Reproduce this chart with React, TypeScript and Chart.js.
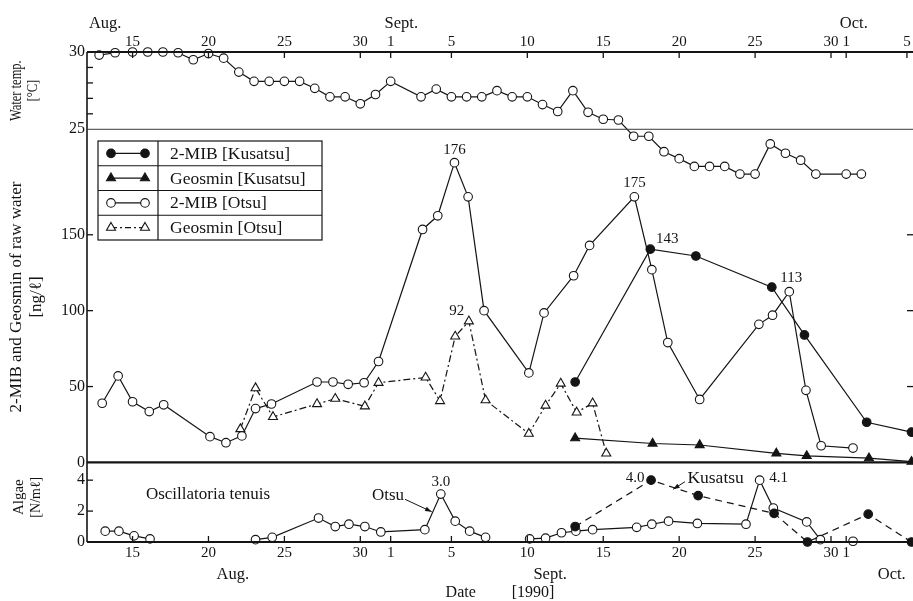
import React, { useEffect, useRef } from "react";
import { Chart, registerables } from "chart.js";

Chart.register(...registerables);

const INK = "#141414";
const SERIF = "'Liberation Serif', 'Times New Roman', 'DejaVu Serif', serif";

// ---------------- data (day number: Aug 1 = 1, Sept 1 = 32, Oct 1 = 62) ----------------
const tempDays = [12.8, 13.85, 15, 16, 17, 18, 19, 20, 21, 22, 23, 24, 25, 26, 27, 28, 29, 30, 31, 32, 34, 35, 36, 37, 38, 39, 40, 41, 42, 43, 44, 45, 46, 47, 48, 49, 50, 51, 52, 53, 54, 55, 56, 57, 58, 59, 60, 62, 63];
const tempValues = [29.8, 29.95, 30, 30, 30, 29.95, 29.5, 29.9, 29.6, 28.7, 28.1, 28.1, 28.1, 28.1, 27.65, 27.1, 27.1, 26.65, 27.25, 28.1, 27.1, 27.6, 27.1, 27.1, 27.1, 27.5, 27.1, 27.1, 26.6, 26.15, 27.5, 26.1, 25.65, 25.6, 24.55, 24.55, 23.55, 23.1, 22.6, 22.6, 22.6, 22.1, 22.1, 24.05, 23.45, 23.0, 22.1, 22.1, 22.1];

const mibOtsuDays = [13.0, 14.05, 15.0, 16.1, 17.05, 20.1, 21.15, 22.2, 23.1, 24.15, 27.15, 28.2, 29.2, 30.25, 31.2, 34.1, 35.1, 36.2, 37.1, 38.15, 41.1, 42.1, 44.05, 45.1, 48.05, 49.2, 50.25, 52.35, 56.25, 57.15, 58.25, 59.35, 60.35, 62.45];
const mibOtsuValues = [39, 57, 40, 33.5, 38, 17, 13, 17.5, 35.5, 38.5, 53, 53, 51.5, 52.5, 66.5, 153.5, 162.5, 197.5, 175, 100, 59, 98.5, 123, 143, 175, 127, 79, 41.5, 91, 97, 112.5, 47.5, 11, 9.5];

const geoOtsuDays = [22.1, 23.1, 24.25, 27.15, 28.35, 30.3, 31.2, 34.3, 35.25, 36.25, 37.15, 38.25, 41.1, 42.2, 43.2, 44.25, 45.3, 46.2];
const geoOtsuValues = [22, 49, 30, 38.5, 42, 37, 52.5, 56, 40.5, 83, 93, 41, 19, 37.5, 52, 33, 39, 6];

const mibKusatsuDays = [44.15, 49.1, 52.1, 57.1, 59.25, 63.35, 66.3];
const mibKusatsuValues = [53, 140.5, 136, 115.5, 84, 26.5, 20];

const geoKusatsuDays = [44.15, 49.25, 52.35, 57.4, 59.4, 63.5, 66.3];
const geoKusatsuValues = [16, 12.5, 11.5, 6, 4.3, 2.8, 0.5];

const algaeOtsuDays = [13.2, 14.1, 15.1, 16.15, null, 23.1, 24.2, 27.25, 28.35, 29.25, 30.3, 31.35, 34.25, 35.3, 36.25, 37.2, 38.25, null, 41.15, 42.2, 43.25, 44.2, 45.3, 48.2, 49.2, 50.3, 52.2, 55.4, 56.3, 57.2, 59.4, 60.3, null, 62.45];
const algaeOtsuValues = [0.7, 0.7, 0.4, 0.2, null, 0.15, 0.3, 1.55, 1.0, 1.15, 1.0, 0.65, 0.8, 3.1, 1.35, 0.7, 0.3, null, 0.2, 0.25, 0.6, 0.7, 0.8, 0.95, 1.15, 1.35, 1.2, 1.15, 4.0, 2.2, 1.3, 0.15, null, 0.05];

const algaeKusatsuDays = [44.15, 49.15, 52.25, 57.25, 59.45, 63.45, 66.3];
const algaeKusatsuValues = [1.0, 4.0, 3.0, 1.85, 0.0, 1.8, 0.0];

// ---------------- tick labels ----------------
const bottomTickDays = [15, 20, 25, 30, 32, 36, 41, 46, 51, 56, 61, 62];
const bottomTickLabels = ["15", "20", "25", "30", "1", "5", "10", "15", "20", "25", "30", "1"];
const topTickDays = [15, 20, 25, 30, 32, 36, 41, 46, 51, 56, 61, 62, 66];
const topTickLabels = ["15", "20", "25", "30", "1", "5", "10", "15", "20", "25", "30", "1", "5"];
const monthNames = ["Aug.", "Sept.", "Oct."];
const monthBottomDays = [21.6, 42.5, 65.0];
const monthTopDays = [13.2, 32.7, 62.5];

const tempAxisLabels = [30, 25];
const tempMinorTicks = [26, 27, 28, 29];
const midAxisLabels = [150, 100, 50, 0];
const midMarkTicks = [50, 100, 150];
const algaeAxisLabels = [4, 2, 0];
const algaeMarkTicks = [2, 4];

// ---------------- scale ranges ----------------
const X_MIN = 12.0, X_MAX = 66.4;
const TEMP_MIN = -1.7, TEMP_MAX = 30;
const MID_MIN = -52.4, MID_MAX = 270.4;
const ALG_MIN = 0, ALG_MAX = 31.7;

const toMid = (v: number, lo: number, hi: number) => MID_MIN + ((v - lo) / (hi - lo)) * (MID_MAX - MID_MIN);
const yTickValues = [
  ...tempAxisLabels.map((v) => toMid(v, TEMP_MIN, TEMP_MAX)),
  ...midAxisLabels,
  ...algaeAxisLabels.map((v) => toMid(v, ALG_MIN, ALG_MAX)),
];
const yTickText = [...tempAxisLabels, ...midAxisLabels, ...algaeAxisLabels].map(String);

const pts = (xs: (number | null)[], ys: (number | null)[]) => xs.map((x, i) => ({ x, y: ys[i] }));

// annotations (dataset index, point index, text, pixel offset)
const valueNotes = [
  { ds: 1, i: 17, text: "176", dx: 0, dy: -13 },
  { ds: 1, i: 24, text: "175", dx: 0, dy: -14 },
  { ds: 1, i: 30, text: "113", dx: 2, dy: -14 },
  { ds: 2, i: 10, text: "92", dx: -12, dy: -10 },
  { ds: 3, i: 1, text: "143", dx: 17, dy: -10 },
  { ds: 5, i: 13, text: "3.0", dx: 0, dy: -12 },
  { ds: 5, i: 28, text: "4.1", dx: 19, dy: -2 },
  { ds: 6, i: 1, text: "4.0", dx: -16, dy: -2 },
];

const legendRows = [
  { text: "2-MIB [Kusatsu]", style: "circle", filled: true, dash: [] as number[] },
  { text: "Geosmin [Kusatsu]", style: "triangle", filled: true, dash: [] as number[] },
  { text: "2-MIB [Otsu]", style: "circle", filled: false, dash: [] as number[] },
  { text: "Geosmin [Otsu]", style: "triangle", filled: false, dash: [6, 3, 2, 3] },
];

function drawMarker(ctx: CanvasRenderingContext2D, style: string, x: number, y: number, r: number, filled: boolean) {
  ctx.save();
  ctx.setLineDash([]);
  ctx.beginPath();
  if (style === "triangle") {
    ctx.moveTo(x, y - r);
    ctx.lineTo(x + r * 0.866, y + r * 0.5);
    ctx.lineTo(x - r * 0.866, y + r * 0.5);
    ctx.closePath();
  } else {
    ctx.arc(x, y, r, 0, Math.PI * 2);
  }
  ctx.fillStyle = filled ? INK : "#fff";
  ctx.fill();
  ctx.lineWidth = 1.1;
  ctx.strokeStyle = INK;
  ctx.stroke();
  ctx.restore();
}

function seg(ctx: CanvasRenderingContext2D, x1: number, y1: number, x2: number, y2: number, w: number, color = INK) {
  ctx.save();
  ctx.beginPath();
  ctx.lineWidth = w;
  ctx.strokeStyle = color;
  ctx.moveTo(x1, y1);
  ctx.lineTo(x2, y2);
  ctx.stroke();
  ctx.restore();
}

function arrow(ctx: CanvasRenderingContext2D, x1: number, y1: number, x2: number, y2: number) {
  seg(ctx, x1, y1, x2, y2, 1);
  const a = Math.atan2(y2 - y1, x2 - x1);
  const s = 7;
  ctx.save();
  ctx.fillStyle = INK;
  ctx.beginPath();
  ctx.moveTo(x2, y2);
  ctx.lineTo(x2 - s * Math.cos(a - 0.35), y2 - s * Math.sin(a - 0.35));
  ctx.lineTo(x2 - s * Math.cos(a + 0.35), y2 - s * Math.sin(a + 0.35));
  ctx.closePath();
  ctx.fill();
  ctx.restore();
}

function rotText(ctx: CanvasRenderingContext2D, text: string, x: number, y: number, size: number, sx = 1) {
  ctx.save();
  ctx.translate(x, y);
  ctx.rotate(-Math.PI / 2);
  ctx.scale(sx, 1);
  ctx.font = `${size}px ${SERIF}`;
  ctx.fillStyle = INK;
  ctx.textAlign = "center";
  ctx.textBaseline = "middle";
  ctx.fillText(text, 0, 0);
  ctx.restore();
}

const decorPlugin = {
  id: "decor",
  afterDraw(chart: any) {
    const ctx: CanvasRenderingContext2D = chart.ctx;
    const { left, right, top, bottom } = chart.chartArea;
    const xs = chart.scales.x;
    const ym = chart.scales.y;
    const yt = chart.scales.yTemp;
    const ya = chart.scales.yAlg;
    ctx.save();

    // frame
    seg(ctx, left, top, right, top, 1.8);
    seg(ctx, left, top, left, bottom, 1.6);
    seg(ctx, left, bottom, right, bottom, 2.2);
    const y0 = ym.getPixelForValue(0);
    seg(ctx, left, y0, right, y0, 2.2);
    const y25 = yt.getPixelForValue(25);
    seg(ctx, left, y25, right, y25, 1, "#3a3a3a");

    // x tick marks
    topTickDays.forEach((d) => {
      const px = xs.getPixelForValue(d);
      seg(ctx, px, top, px, top + 6, 1.3);
    });
    bottomTickDays.forEach((d) => {
      const px = xs.getPixelForValue(d);
      seg(ctx, px, bottom, px, bottom - 6, 1.3);
    });
    // y tick marks
    tempMinorTicks.forEach((v) => {
      const py = yt.getPixelForValue(v);
      seg(ctx, left, py, left + 6, py, 1.3);
    });
    midMarkTicks.forEach((v) => {
      const py = ym.getPixelForValue(v);
      seg(ctx, left, py, left + 6, py, 1.3);
      seg(ctx, right, py, right - 6, py, 1.3);
    });
    algaeMarkTicks.forEach((v) => {
      const py = ya.getPixelForValue(v);
      seg(ctx, left, py, left + 6, py, 1.3);
    });

    // side titles
    const tMid = yt.getPixelForValue(27.5);
    rotText(ctx, "Water temp.", 17, tMid, 16, 0.78);
    rotText(ctx, "[°C]", 33, tMid, 14, 0.9);
    const aMid = ya.getPixelForValue(2.9);
    rotText(ctx, "Algae", 19, aMid, 15);
    rotText(ctx, "[N/mℓ]", 36, aMid, 14);

    // legend table
    const lx = 98, ly = 141, lw = 224, rh = 24.75, div = 158;
    ctx.fillStyle = "#fff";
    ctx.fillRect(lx, ly, lw, rh * 4);
    ctx.lineWidth = 1.2;
    ctx.strokeStyle = INK;
    ctx.strokeRect(lx, ly, lw, rh * 4);
    seg(ctx, div, ly, div, ly + rh * 4, 1.2);
    for (let k = 1; k < 4; k++) seg(ctx, lx, ly + rh * k, lx + lw, ly + rh * k, 1);
    legendRows.forEach((row, k) => {
      const cy = ly + rh * (k + 0.5);
      ctx.save();
      ctx.setLineDash(row.dash);
      ctx.beginPath();
      ctx.lineWidth = 1.2;
      ctx.strokeStyle = INK;
      ctx.moveTo(111, cy);
      ctx.lineTo(145, cy);
      ctx.stroke();
      ctx.restore();
      const r = row.style === "triangle" ? 5.2 : 4.3;
      drawMarker(ctx, row.style, 111, cy, r, row.filled);
      drawMarker(ctx, row.style, 145, cy, r, row.filled);
      ctx.font = `17.5px ${SERIF}`;
      ctx.fillStyle = INK;
      ctx.textAlign = "left";
      ctx.textBaseline = "middle";
      ctx.fillText(row.text, 170, cy + 1);
    });

    // value labels
    ctx.font = `15px ${SERIF}`;
    ctx.fillStyle = INK;
    ctx.textAlign = "center";
    ctx.textBaseline = "middle";
    valueNotes.forEach((n) => {
      const el = chart.getDatasetMeta(n.ds).data[n.i];
      if (!el) return;
      ctx.fillText(n.text, el.x + n.dx, el.y + n.dy);
    });

    // text notes with arrows
    ctx.font = `17px ${SERIF}`;
    ctx.fillText("Oscillatoria tenuis", xs.getPixelForValue(19.97), ya.getPixelForValue(3.1));
    ctx.fillText("Otsu", xs.getPixelForValue(31.82), ya.getPixelForValue(2.98));
    arrow(ctx, xs.getPixelForValue(32.95), ya.getPixelForValue(2.76), xs.getPixelForValue(34.7), ya.getPixelForValue(1.96));
    ctx.font = `17.5px ${SERIF}`;
    ctx.fillText("Kusatsu", xs.getPixelForValue(53.4), ya.getPixelForValue(4.14));
    arrow(ctx, xs.getPixelForValue(51.38), ya.getPixelForValue(3.9), xs.getPixelForValue(50.6), ya.getPixelForValue(3.41));

    ctx.restore();
  },
};

export default function App() {
  const ref = useRef<HTMLCanvasElement>(null);

  useEffect(() => {
    if (!ref.current) return;
    Chart.defaults.font.family = SERIF;
    Chart.defaults.color = INK;

    const base = {
      borderColor: INK,
      borderWidth: 1.2,
      pointBorderColor: INK,
      pointBorderWidth: 1.1,
      pointRadius: 4.3,
      pointHoverRadius: 4.3,
      tension: 0,
      clip: false as any,
      spanGaps: false,
      xAxisID: "x",
    };

    const chart = new Chart(ref.current, {
      type: "line",
      data: {
        datasets: [
          { ...base, order: 3, label: "Water temp.", data: pts(tempDays, tempValues), yAxisID: "yTemp", pointBackgroundColor: "#fff" },
          { ...base, order: 3, label: "2-MIB [Otsu]", data: pts(mibOtsuDays, mibOtsuValues), yAxisID: "y", pointBackgroundColor: "#fff" },
          { ...base, order: 3, label: "Geosmin [Otsu]", data: pts(geoOtsuDays, geoOtsuValues), yAxisID: "y", pointStyle: "triangle", pointRadius: 5.2, pointHoverRadius: 5.2, pointBackgroundColor: "#fff", borderDash: [7, 3, 2, 3] },
          { ...base, order: 1, label: "2-MIB [Kusatsu]", data: pts(mibKusatsuDays, mibKusatsuValues), yAxisID: "y", pointBackgroundColor: INK },
          { ...base, order: 1, label: "Geosmin [Kusatsu]", data: pts(geoKusatsuDays, geoKusatsuValues), yAxisID: "y", pointStyle: "triangle", pointRadius: 5.2, pointHoverRadius: 5.2, pointBackgroundColor: INK },
          { ...base, order: 3, label: "Algae [Otsu]", data: pts(algaeOtsuDays, algaeOtsuValues), yAxisID: "yAlg", pointBackgroundColor: "#fff" },
          { ...base, order: 1, label: "Algae [Kusatsu]", data: pts(algaeKusatsuDays, algaeKusatsuValues), yAxisID: "yAlg", pointBackgroundColor: INK, borderDash: [7, 5] },
        ] as any,
      },
      options: {
        animation: false,
        responsive: true,
        maintainAspectRatio: false,
        events: [],
        layout: { padding: 0, autoPadding: false } as any,
        plugins: { legend: { display: false }, tooltip: { enabled: false } },
        scales: {
          x: {
            type: "linear",
            position: "bottom",
            min: X_MIN,
            max: X_MAX,
            grid: { display: false, drawTicks: false },
            border: { display: false },
            afterBuildTicks: (s: any) => {
              s.ticks = [...bottomTickDays, ...monthBottomDays].map((value) => ({ value }));
            },
            afterFit: (s: any) => {
              s.height = 59;
            },
            ticks: {
              autoSkip: false,
              maxRotation: 0,
              minRotation: 0,
              padding: 1,
              color: INK,
              font: (c: any) =>
                c.index < bottomTickLabels.length ? { size: 15, lineHeight: 21 / 15 } : { size: 16.5, lineHeight: 21 / 16.5 },
              callback: (_v: any, i: number) =>
                i < bottomTickLabels.length ? bottomTickLabels[i] : ["", monthNames[i - bottomTickLabels.length]],
            },
            title: { display: true, text: "Date         [1990]", color: INK, font: { size: 16, lineHeight: 1 }, padding: 0 },
          },
          xTop: {
            type: "linear",
            position: "top",
            min: X_MIN,
            max: X_MAX,
            grid: { display: false, drawTicks: false },
            border: { display: false },
            afterBuildTicks: (s: any) => {
              s.ticks = [...topTickDays, ...monthTopDays].map((value) => ({ value }));
            },
            afterFit: (s: any) => {
              s.height = 52;
            },
            ticks: {
              autoSkip: false,
              maxRotation: 0,
              minRotation: 0,
              padding: 1,
              color: INK,
              font: (c: any) =>
                c.index < topTickLabels.length ? { size: 15, lineHeight: 18 / 15 } : { size: 16.5, lineHeight: 18 / 16.5 },
              callback: (_v: any, i: number) =>
                i < topTickLabels.length ? topTickLabels[i] : [monthNames[i - topTickLabels.length], ""],
            },
          },
          y: {
            type: "linear",
            position: "left",
            min: MID_MIN,
            max: MID_MAX,
            grid: { display: false, drawTicks: false },
            border: { display: false },
            afterBuildTicks: (s: any) => {
              s.ticks = yTickValues.map((value) => ({ value }));
            },
            afterFit: (s: any) => {
              s.width = 87;
            },
            ticks: {
              autoSkip: false,
              padding: 2,
              color: INK,
              font: { size: 16 },
              callback: (_v: any, i: number) => yTickText[i],
            },
            title: {
              display: true,
              text: ["2-MIB and Geosmin of raw water", "[ng/ℓ]"],
              color: INK,
              font: { size: 17, lineHeight: 20 / 17 },
              padding: { top: 7, bottom: 0 },
            },
          },
          yTemp: { type: "linear", display: false, position: "left", min: TEMP_MIN, max: TEMP_MAX },
          yAlg: { type: "linear", display: false, position: "left", min: ALG_MIN, max: ALG_MAX },
        } as any,
      },
      plugins: [decorPlugin],
    });

    return () => chart.destroy();
  }, []);

  return (
    <div style={{ position: "fixed", left: 0, top: 0, width: 913, height: 601, background: "#fff" }}>
      <canvas ref={ref} />
    </div>
  );
}
